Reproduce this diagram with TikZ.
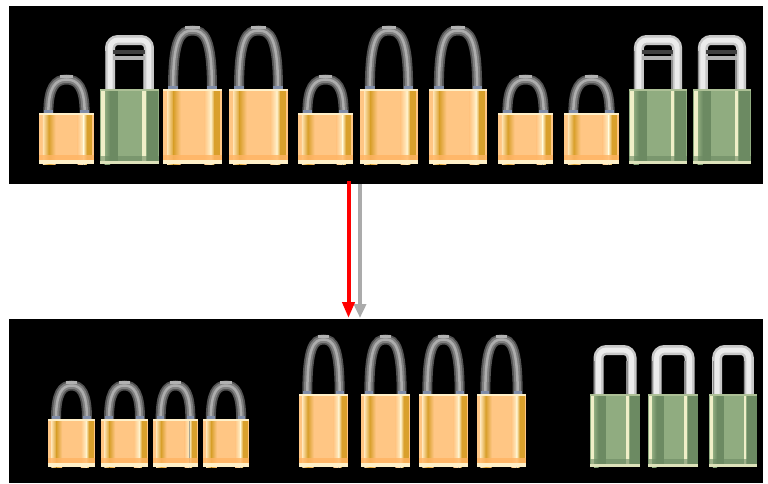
\documentclass[tikz,border=0pt]{standalone}
\usetikzlibrary{arrows.meta}
\definecolor{peach}{HTML}{FFC684}
\definecolor{goldband}{HTML}{D9A02C}
\definecolor{paleedge}{HTML}{FFF0C8}
\definecolor{sagebody}{HTML}{90AC80}
\definecolor{sageband}{HTML}{6C8A62}
\definecolor{creamedge}{HTML}{F0EFC8}
\definecolor{steelfoot}{HTML}{7F8CA8}
\tikzset{
  redarrow/.style={line width=4pt,draw=red,fill=red,-{Triangle[length=16pt,width=12pt]}},
  grayarrow/.style={line width=4pt,draw=black!33,fill=black!33,-{Triangle[length=14pt,width=12pt]}},
}
% lock with an arched steel shackle: {left}{right}{body top}{bottom}{shackle top}
\newcommand{\goldlock}[5]{
  \pgfmathsetmacro\lockw{#2-#1}
  \begin{scope}[shift={(#1,0)},x=\lockw pt]
    % shackle
    \foreach \strokew/\steel in {10/black!68,6.5/black!50,2.5/black!32}
      \draw[draw=\steel,line width=\strokew pt] (0.17,#3) .. controls (0.17,#5+12) and (0.3,#5+4.5) .. (0.5,#5+4.5)
        .. controls (0.7,#5+4.5) and (0.83,#5+12) .. (0.83,#3);
    \fill[black!30] (0.38,#5) rectangle (0.62,#5+2.5);
    \fill[steelfoot] (0.09,#3-3) rectangle (0.25,#3);
    \fill[steelfoot] (0.75,#3-3) rectangle (0.91,#3);
    % body
    \fill[peach] (0,#3) rectangle (1,#4);
    \fill[left color=paleedge!70!peach,right color=goldband] (0.07,#3) rectangle (0.18,#4);
    \fill[left color=goldband,right color=peach] (0.18,#3) rectangle (0.30,#4);
    \fill[left color=peach,right color=paleedge] (0.70,#3) rectangle (0.81,#4);
    \fill[left color=paleedge,right color=goldband] (0.81,#3) rectangle (0.87,#4);
    \fill[goldband] (0.87,#3) rectangle (0.97,#4);
    \fill[paleedge] (0,#3) rectangle (1,#3+2);
    \fill[orange!25!peach,opacity=0.8] (0,#4-9) rectangle (1,#4-4);
    \fill[paleedge] (0,#4-4) rectangle (1,#4);
  \end{scope}
}
% lock with a square white shackle
\newcommand{\greenlock}[5]{
  \pgfmathsetmacro\lockw{#2-#1}
  \begin{scope}[shift={(#1,0)},x=\lockw pt]
    % shackle
    \foreach \strokew/\steel in {10/black!22,5/black!8}
      \draw[draw=\steel,line width=\strokew pt,rounded corners=8pt] (0.17,#3) -- (0.17,#5+5) -- (0.83,#5+5) -- (0.83,#3);
    \draw[black!45,line width=1.5pt] (0.74,#3) -- (0.74,#5+16);
    \draw[black!45,line width=1pt] (0.09,#3) -- (0.09,#5+16);
    % body
    \fill[sagebody] (0,#3) rectangle (1,#4);
    \fill[left color=sagebody,right color=sageband] (0.08,#3) rectangle (0.17,#4);
    \fill[sageband] (0.17,#3) rectangle (0.31,#4);
    \fill[sageband] (0.80,#3) rectangle (0.99,#4);
    \fill[creamedge] (0.02,#3) rectangle (0.08,#4);
    \fill[creamedge] (0.72,#3) rectangle (0.78,#4);
    \fill[sageband,opacity=0.6] (0,#4-8) rectangle (1,#4-3);
    \fill[sagebody!70!creamedge] (0,#3) rectangle (1,#3+2);
    \fill[creamedge!80!sagebody] (0,#4-3) rectangle (1,#4);
  \end{scope}
}
\begin{document}
\begin{tikzpicture}[x=1pt,y=-1pt]
    \useasboundingbox (0,0) rectangle (768,483);
    \fill[white] (0,0) rectangle (768,483);
    % Panels
    \fill[black] (9,6) rectangle (763,184);
    \fill[black] (9,319) rectangle (763,483);
    % Mixed row
    \foreach \xa/\xb in {39/94,298/353,498/553,564/619} {
      \goldlock{\xa}{\xb}{113}{164}{75}
    }
    \foreach \xa/\xb in {163/222,229/288,360/418,429/487} {
      \goldlock{\xa}{\xb}{89}{164}{26}
    }
    \foreach \xa/\xb in {100/159,629/687,693/751} {
      \greenlock{\xa}{\xb}{89}{164}{35}
      % crossbars
      \fill[black!75] (\xa+13,50) rectangle (\xb-14,54);
      \fill[black!30] (\xa+13,56) rectangle (\xb-14,60);
    }
    % Sorted row
    \foreach \xa/\xb in {48/95,101/148,153/198,203/249} {
      \goldlock{\xa}{\xb}{419}{467}{381}
    }
    \foreach \xa/\xb in {299/348,361/410,419/468,477/526} {
      \goldlock{\xa}{\xb}{394}{467}{335}
    }
    \foreach \xa/\xb in {590/640,648/698,709/757} {
      \greenlock{\xa}{\xb}{394}{467}{345}
    }
    % Arrows
    \coordinate (grayfrom) at (360,184);
    \coordinate (grayto) at (360,318);
    \coordinate (redfrom) at (348.5,181);
    \coordinate (redto) at (348.5,318);
    \draw[grayarrow] (grayfrom) -- (grayto);
    \draw[redarrow] (redfrom) -- (redto);
\end{tikzpicture}
\end{document}
